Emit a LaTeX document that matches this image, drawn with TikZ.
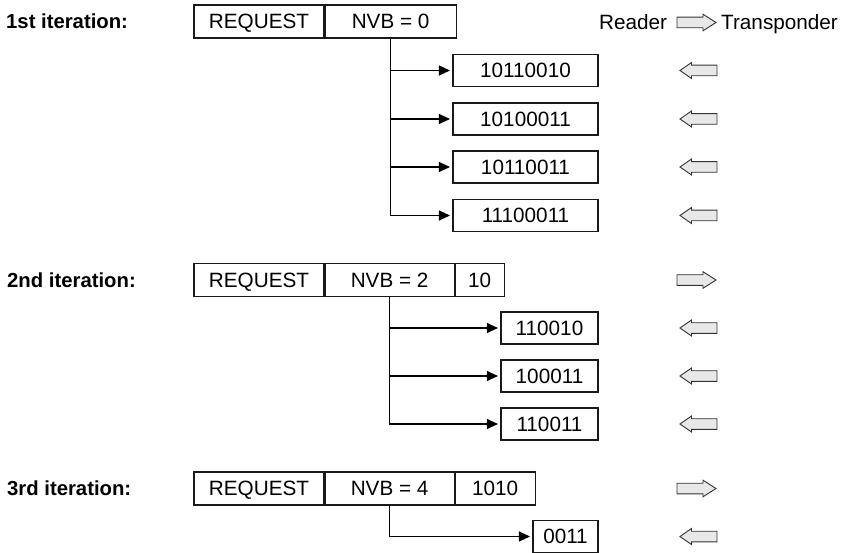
\documentclass[tikz,border=0pt]{standalone}
\usepackage{fontspec}
\setmainfont{Liberation Sans}
\usetikzlibrary{arrows.meta}
\begin{document}
\begin{tikzpicture}[x=1pt,y=-1pt,
  every node/.style={font=\fontsize{20.7}{24}\selectfont},
  cell/.style={draw=black!90, line width=1.1pt, inner sep=0pt, minimum height=33pt, text height=14.8pt, text depth=0pt},
  kid/.style={draw=black!90, line width=1.1pt, inner sep=0pt, minimum height=32pt, text height=14.8pt, text depth=0pt},
  iter/.style={anchor=west, font=\fontsize{20.3}{24}\selectfont\bfseries, inner sep=0pt, text height=14.6pt, text depth=0pt},
  branch/.style={line width=1.1pt, -{Triangle[length=11pt,width=10pt]}, shorten >=2.5pt},
  blk/.style={draw=black!80, fill=black!9, line width=0.9pt, line join=miter},
  larrow/.pic={\draw[blk] (18.5,-5.3) -- (-7,-5.3) -- (-7,-8) -- (-18.5,0) -- (-7,8) -- (-7,5.3) -- (18.5,5.3) -- cycle;},
  rarrow/.pic={\draw[blk] (-19.5,-5.3) -- (6.5,-5.3) -- (6.5,-8.3) -- (19.5,0) -- (6.5,8.3) -- (6.5,5.3) -- (-19.5,5.3) -- cycle;}
]
\useasboundingbox (0,0) rectangle (845,553);

% header
\node[anchor=west, inner sep=0pt, text height=14.8pt, text depth=0pt] (rd) at (599,22.5) {Reader};
\pic at (696.5,22.5) {rarrow};
\node[anchor=west, inner sep=0pt, text height=14.8pt, text depth=0pt] (tp) at (721,22.5) {Transponder};

% 1st iteration
\node[iter] (l1) at (6,21.5) {1st iteration:};
\node[cell, minimum width=130pt] (r1) at (259,21.5) {REQUEST};
\node[cell, minimum width=131pt, anchor=west] (n1) at (r1.east) {NVB = 0};
\node[kid, minimum width=145pt] (c11) at (525.5,70.5) {10110010};
\node[kid, minimum width=145pt] (c12) at (525.5,119) {10100011};
\node[kid, minimum width=145pt] (c13) at (525.5,167) {10110011};
\node[kid, minimum width=145pt] (c14) at (525.5,215.5) {11100011};
\foreach \k in {c11,c12,c13,c14} {\draw[branch] (n1.south) |- (\k.west);}
\foreach \yy in {70.5,119,167,215.5} {\pic at (698.5,\yy) {larrow};}

% 2nd iteration
\node[iter] (l2) at (7,280) {2nd iteration:};
\node[cell, minimum width=130pt] (r2) at (259,280) {REQUEST};
\node[cell, minimum width=129pt, anchor=west] (n2) at (r2.east) {NVB = 2};
\node[cell, minimum width=49pt, anchor=west] (x2) at (n2.east) {10};
\node[kid, minimum width=97pt] (c21) at (549.5,328) {110010};
\node[kid, minimum width=97pt] (c22) at (549.5,376) {100011};
\node[kid, minimum width=97pt] (c23) at (549.5,424) {110011};
\foreach \k in {c21,c22,c23} {\draw[branch] (n2.south) |- (\k.west);}
\pic at (696.5,280) {rarrow};
\foreach \yy in {328,376,424} {\pic at (698.5,\yy) {larrow};}

% 3rd iteration
\node[iter] (l3) at (7,488.5) {3rd iteration:};
\node[cell, minimum width=130pt] (r3) at (259,488.5) {REQUEST};
\node[cell, minimum width=129pt, anchor=west] (n3) at (r3.east) {NVB = 4};
\node[cell, minimum width=80pt, anchor=west] (x3) at (n3.east) {1010};
\node[kid, minimum width=65pt] (c31) at (565.5,536.5) {0011};
\draw[branch] (n3.south) |- (c31.west);
\pic at (696.5,488.5) {rarrow};
\pic at (698.5,536.5) {larrow};
\end{tikzpicture}
\end{document}
